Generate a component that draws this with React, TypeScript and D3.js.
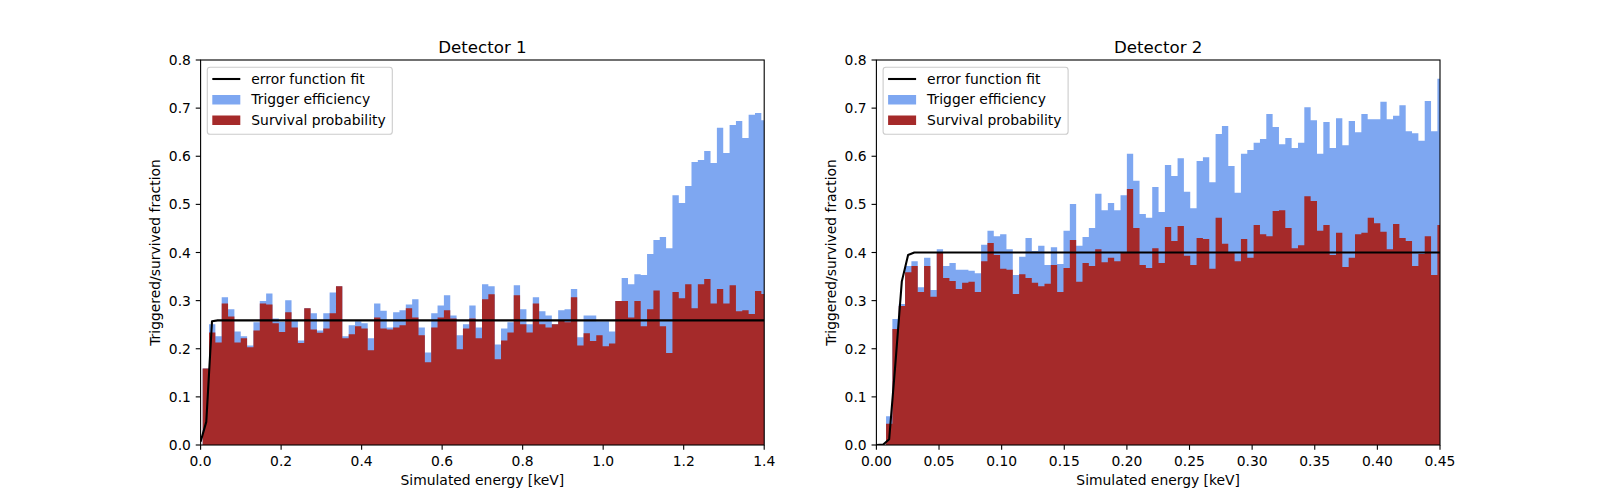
import React from 'react';
import * as d3 from 'd3';

// ---------- data ----------
const detectorTitles = ['Detector 1', 'Detector 2'];
const seriesNames = ['error function fit', 'Trigger efficiency', 'Survival probability'];
const xAxisLabel = 'Simulated energy [keV]';
const yAxisLabel = 'Triggered/survived fraction';

// Detector 1 histogram bins (keV)
const d1BinStart = 0.0051;
const d1BinWidth = 0.01577;
const d1Trigger = [
  0.159, 0.251, 0.226, 0.307, 0.282, 0.236, 0.226, 0.207, 0.255, 0.299,
  0.315, 0.263, 0.256, 0.301, 0.258, 0.217, 0.284, 0.274, 0.238, 0.274,
  0.317, 0.330, 0.226, 0.249, 0.257, 0.253, 0.222, 0.294, 0.279, 0.244,
  0.276, 0.280, 0.292, 0.303, 0.244, 0.192, 0.274, 0.290, 0.311, 0.269,
  0.228, 0.251, 0.290, 0.244, 0.334, 0.330, 0.209, 0.242, 0.255, 0.332,
  0.282, 0.251, 0.307, 0.278, 0.269, 0.251, 0.280, 0.282, 0.324, 0.224,
  0.269, 0.269, 0.257, 0.257, 0.236, 0.299, 0.347, 0.334, 0.355, 0.353,
  0.397, 0.426, 0.432, 0.409, 0.519, 0.503, 0.538, 0.588, 0.592, 0.611,
  0.586, 0.659, 0.607, 0.665, 0.673, 0.638, 0.686, 0.690, 0.675,
];
const d1Survival = [
  0.159, 0.234, 0.213, 0.294, 0.267, 0.213, 0.222, 0.203, 0.238, 0.294,
  0.292, 0.253, 0.235, 0.276, 0.244, 0.212, 0.284, 0.240, 0.233, 0.242,
  0.274, 0.330, 0.222, 0.230, 0.247, 0.242, 0.197, 0.265, 0.242, 0.240,
  0.244, 0.249, 0.284, 0.265, 0.228, 0.172, 0.244, 0.265, 0.280, 0.263,
  0.199, 0.242, 0.263, 0.222, 0.303, 0.313, 0.178, 0.217, 0.234, 0.311,
  0.251, 0.234, 0.294, 0.251, 0.244, 0.251, 0.259, 0.255, 0.307, 0.207,
  0.232, 0.216, 0.228, 0.205, 0.211, 0.299, 0.299, 0.265, 0.299, 0.247,
  0.282, 0.321, 0.247, 0.191, 0.318, 0.305, 0.334, 0.284, 0.334, 0.345,
  0.294, 0.324, 0.294, 0.332, 0.278, 0.280, 0.272, 0.320, 0.314,
];
const d1FitEnergy = [0, 0.0141, 0.0283, 0.0424, 1.4];
const d1FitValue = [0.007, 0.048, 0.257, 0.259, 0.259];

// Detector 2 histogram bins (keV)
const d2BinStart = 0.0077;
const d2BinWidth = 0.00506;
const d2Trigger = [
  0.060, 0.262, 0.293, 0.372, 0.382, 0.328, 0.389, 0.322, 0.407, 0.372,
  0.378, 0.364, 0.364, 0.362, 0.357, 0.416, 0.445, 0.434, 0.438, 0.407,
  0.353, 0.391, 0.430, 0.403, 0.414, 0.374, 0.411, 0.376, 0.445, 0.501,
  0.414, 0.432, 0.451, 0.522, 0.488, 0.503, 0.488, 0.519, 0.605, 0.549,
  0.480, 0.472, 0.536, 0.484, 0.582, 0.559, 0.596, 0.526, 0.492, 0.590,
  0.598, 0.546, 0.646, 0.663, 0.580, 0.524, 0.605, 0.613, 0.628, 0.636,
  0.688, 0.661, 0.625, 0.638, 0.617, 0.628, 0.702, 0.675, 0.605, 0.671,
  0.617, 0.679, 0.623, 0.673, 0.650, 0.688, 0.677, 0.677, 0.713, 0.677,
  0.684, 0.706, 0.652, 0.648, 0.632, 0.715, 0.652, 0.761,
];
const d2Survival = [
  0.044, 0.241, 0.289, 0.359, 0.372, 0.318, 0.372, 0.308, 0.399, 0.347,
  0.341, 0.324, 0.337, 0.339, 0.318, 0.382, 0.420, 0.395, 0.366, 0.364,
  0.314, 0.355, 0.347, 0.337, 0.330, 0.335, 0.374, 0.318, 0.368, 0.426,
  0.339, 0.378, 0.372, 0.407, 0.380, 0.389, 0.382, 0.399, 0.532, 0.451,
  0.374, 0.368, 0.409, 0.378, 0.453, 0.424, 0.455, 0.393, 0.374, 0.430,
  0.428, 0.366, 0.472, 0.418, 0.401, 0.382, 0.428, 0.389, 0.457, 0.438,
  0.434, 0.486, 0.488, 0.451, 0.409, 0.415, 0.517, 0.507, 0.445, 0.457,
  0.395, 0.441, 0.370, 0.389, 0.438, 0.441, 0.472, 0.461, 0.443, 0.407,
  0.459, 0.430, 0.424, 0.372, 0.397, 0.434, 0.353, 0.457,
];
const d2FitEnergy = [0, 0.0055, 0.0102, 0.0152, 0.0203, 0.0253, 0.0303, 0.45];
const d2FitValue = [0.0, 0.001, 0.012, 0.17, 0.34, 0.395, 0.400, 0.400];

const d1XTicks = [0, 0.2, 0.4, 0.6, 0.8, 1.0, 1.2, 1.4];
const d2XTicks = [0, 0.05, 0.1, 0.15, 0.2, 0.25, 0.3, 0.35, 0.4, 0.45];
const yTicks = [0, 0.1, 0.2, 0.3, 0.4, 0.5, 0.6, 0.7, 0.8];

// ---------- styling / layout ----------
const W = 1600;
const H = 500;
const AX_TOP = 60;
const AX_BOTTOM = 445;
const AX_W = 563.6;
const FONT = '"DejaVu Sans", Verdana, sans-serif';
const FS = 13.89;
const BLUE = '#7ea7f1';
const RED = '#a52a2a';

type PanelProps = {
  id: string;
  x0: number;
  title: string;
  xMax: number;
  xTicks: number[];
  digits: number;
  binStart: number;
  binWidth: number;
  trig: number[];
  surv: number[];
  fitE: number[];
  fitV: number[];
};

function Panel(p: PanelProps) {
  const x = d3.scaleLinear().domain([0, p.xMax]).range([p.x0, p.x0 + AX_W]);
  const y = d3.scaleLinear().domain([0, 0.8]).range([AX_BOTTOM, AX_TOP]);

  const steps = (vals: number[]): [number, number][] => {
    const pts: [number, number][] = vals.map((v, i) => [p.binStart + i * p.binWidth, v]);
    pts.push([p.binStart + vals.length * p.binWidth, vals[vals.length - 1]]);
    return pts;
  };
  const area = d3
    .area<[number, number]>()
    .x((d) => x(d[0]))
    .y0(y(0))
    .y1((d) => y(d[1]))
    .curve(d3.curveStepAfter);
  const line = d3
    .line<number>()
    .x((_, i) => x(p.fitE[i]))
    .y((d) => y(d));

  const clipId = `clip-${p.id}`;
  const tickLen = 4.86;
  const lx = p.x0 + 6.7;
  const ly = 67.3;

  return (
    <g>
      <defs>
        <clipPath id={clipId}>
          <rect x={p.x0} y={AX_TOP} width={AX_W} height={AX_BOTTOM - AX_TOP} />
        </clipPath>
      </defs>
      <g clipPath={`url(#${clipId})`}>
        <path d={area(steps(p.trig)) || ''} fill={BLUE} />
        <path d={area(steps(p.surv)) || ''} fill={RED} />
        <path d={line(p.fitV) || ''} fill="none" stroke="#000" strokeWidth={2.08} strokeLinejoin="round" />
      </g>
      {/* spines */}
      <rect
        x={p.x0}
        y={AX_TOP}
        width={AX_W}
        height={AX_BOTTOM - AX_TOP}
        fill="none"
        stroke="#000"
        strokeWidth={1.11}
      />
      {/* x ticks */}
      {p.xTicks.map((t) => (
        <g key={`x${t}`}>
          <line x1={x(t)} x2={x(t)} y1={AX_BOTTOM} y2={AX_BOTTOM + tickLen} stroke="#000" strokeWidth={1.11} />
          <text x={x(t)} y={466} textAnchor="middle" fontFamily={FONT} fontSize={FS} fill="#000">
            {t.toFixed(p.digits)}
          </text>
        </g>
      ))}
      {/* y ticks */}
      {yTicks.map((t) => (
        <g key={`y${t}`}>
          <line x1={p.x0 - tickLen} x2={p.x0} y1={y(t)} y2={y(t)} stroke="#000" strokeWidth={1.11} />
          <text x={p.x0 - 9.7} y={y(t) + 5} textAnchor="end" fontFamily={FONT} fontSize={FS} fill="#000">
            {t.toFixed(1)}
          </text>
        </g>
      ))}
      {/* axis labels */}
      <text x={p.x0 + AX_W / 2} y={485} textAnchor="middle" fontFamily={FONT} fontSize={FS} fill="#000">
        {xAxisLabel}
      </text>
      <text
        transform={`translate(${p.x0 - 40.6},${(AX_TOP + AX_BOTTOM) / 2}) rotate(-90)`}
        textAnchor="middle"
        fontFamily={FONT}
        fontSize={FS}
        fill="#000"
      >
        {yAxisLabel}
      </text>
      {/* title */}
      <text x={p.x0 + AX_W / 2} y={52.5} textAnchor="middle" fontFamily={FONT} fontSize={16.67} fill="#000">
        {p.title}
      </text>
      {/* legend */}
      <g>
        <rect
          x={lx}
          y={ly}
          width={185}
          height={67}
          rx={2.8}
          fill="#fff"
          fillOpacity={0.8}
          stroke="#cccccc"
          strokeWidth={1.11}
        />
        <line x1={lx + 5} x2={lx + 33} y1={79} y2={79} stroke="#000" strokeWidth={2.08} />
        <rect x={lx + 5} y={95} width={28} height={9.5} fill={BLUE} />
        <rect x={lx + 5} y={115.5} width={28} height={9.5} fill={RED} />
        {seriesNames.map((s, i) => (
          <text key={s} x={lx + 44} y={84 + i * 20.4} fontFamily={FONT} fontSize={FS} fill="#000">
            {s}
          </text>
        ))}
      </g>
    </g>
  );
}

export default function App() {
  return (
    <svg
      width={W}
      height={H}
      viewBox={`0 0 ${W} ${H}`}
      style={{ position: 'fixed', left: 0, top: 0, background: '#fff' }}
    >
      <rect x={0} y={0} width={W} height={H} fill="#fff" />
      <Panel
        id="d1"
        x0={200.6}
        title={detectorTitles[0]}
        xMax={1.4}
        xTicks={d1XTicks}
        digits={1}
        binStart={d1BinStart}
        binWidth={d1BinWidth}
        trig={d1Trigger}
        surv={d1Survival}
        fitE={d1FitEnergy}
        fitV={d1FitValue}
      />
      <Panel
        id="d2"
        x0={876.4}
        title={detectorTitles[1]}
        xMax={0.45}
        xTicks={d2XTicks}
        digits={2}
        binStart={d2BinStart}
        binWidth={d2BinWidth}
        trig={d2Trigger}
        surv={d2Survival}
        fitE={d2FitEnergy}
        fitV={d2FitValue}
      />
    </svg>
  );
}
